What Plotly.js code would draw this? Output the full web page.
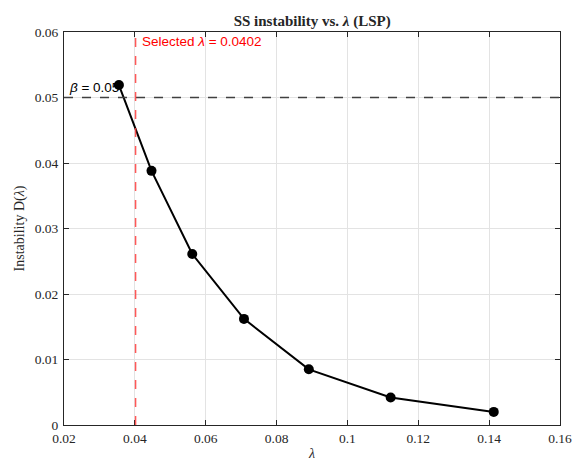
<!DOCTYPE html>
<html><head><meta charset="utf-8">
<script src="https://cdn.plot.ly/plotly-3.0.1.min.js"></script>
<style>html,body{margin:0;padding:0;background:#fff}</style>
</head><body><div id="chart" style="width:575px;height:461px"></div>
<script>
const lambdas = [0.0355, 0.0447, 0.0562, 0.0708, 0.0891, 0.1122, 0.1413];
const instability = [0.0519, 0.0388, 0.0261, 0.0162, 0.0085, 0.0042, 0.0020];
const beta = 0.05;
const selectedLambda = 0.0402;
const xTicks = [0.02, 0.04, 0.06, 0.08, 0.1, 0.12, 0.14, 0.16];
const yTicks = [0, 0.01, 0.02, 0.03, 0.04, 0.05, 0.06];

const serif = 'Liberation Serif, Times New Roman, serif';
const sans = 'Liberation Sans, Arial, sans-serif';
const tickFont = {family: serif, size: 13.5, color: '#262626'};
const axisCommon = {
  showline: true, linecolor: '#262626', linewidth: 1, mirror: 'ticks',
  ticks: 'inside', ticklen: 5, tickcolor: '#262626', tickwidth: 1,
  showgrid: true, gridcolor: '#e3e3e3', gridwidth: 1, zeroline: false,
  tickfont: tickFont
};
const data = [{
  x: lambdas, y: instability, type: 'scatter', mode: 'lines+markers',
  line: {color: '#000', width: 2}, marker: {color: '#000', size: 10},
  showlegend: false
}];
const layout = {
  width: 575, height: 461,
  margin: {l: 64, r: 15, t: 32, b: 36},
  paper_bgcolor: '#fff', plot_bgcolor: '#fff',
  title: {text: '<b>SS instability vs. <i>λ</i> (LSP)</b>', x: 0.543, xanchor: 'center', y: 0.955, yanchor: 'middle',
          font: {family: serif, size: 15, color: '#262626'}},
  xaxis: Object.assign({}, axisCommon, {range: [0.02, 0.16], tickvals: xTicks, ticktext: xTicks.map(String),
    ticklabelstandoff: 1,
    title: {text: '<i>λ</i>', standoff: 3, font: {family: serif, size: 14, color: '#262626'}}}),
  yaxis: Object.assign({}, axisCommon, {range: [0, 0.06], tickvals: yTicks, ticktext: yTicks.map(String),
    ticklabelstandoff: 2,
    title: {text: 'Instability D(<i>λ</i>)', standoff: 6, font: {family: serif, size: 14, color: '#262626'}}}),
  shapes: [
    {type: 'line', xref: 'paper', x0: 0, x1: 1, yref: 'y', y0: beta, y1: beta,
     line: {color: '#404040', width: 1.5, dash: 'dash'}},
    {type: 'line', xref: 'x', x0: selectedLambda, x1: selectedLambda, yref: 'paper', y0: 0, y1: 1,
     line: {color: '#ff3b3b', width: 1.5, dash: 'dash'}, opacity: 0.85}
  ],
  annotations: [
    {xref: 'x', yref: 'y', x: 0.0209, y: beta + 0.0016, xanchor: 'left', yanchor: 'middle', showarrow: false,
     text: '<i>β</i> = 0.05', font: {family: sans, size: 13.5, color: '#000'}},
    {xref: 'x', yref: 'paper', x: selectedLambda + 0.0012, y: 0.975, xanchor: 'left', yanchor: 'middle', showarrow: false,
     text: 'Selected <i>λ</i> = 0.0402', font: {family: sans, size: 13.5, color: '#ff0000'}}
  ]
};
Plotly.newPlot('chart', data, layout, {displayModeBar: false});
</script></body></html>
